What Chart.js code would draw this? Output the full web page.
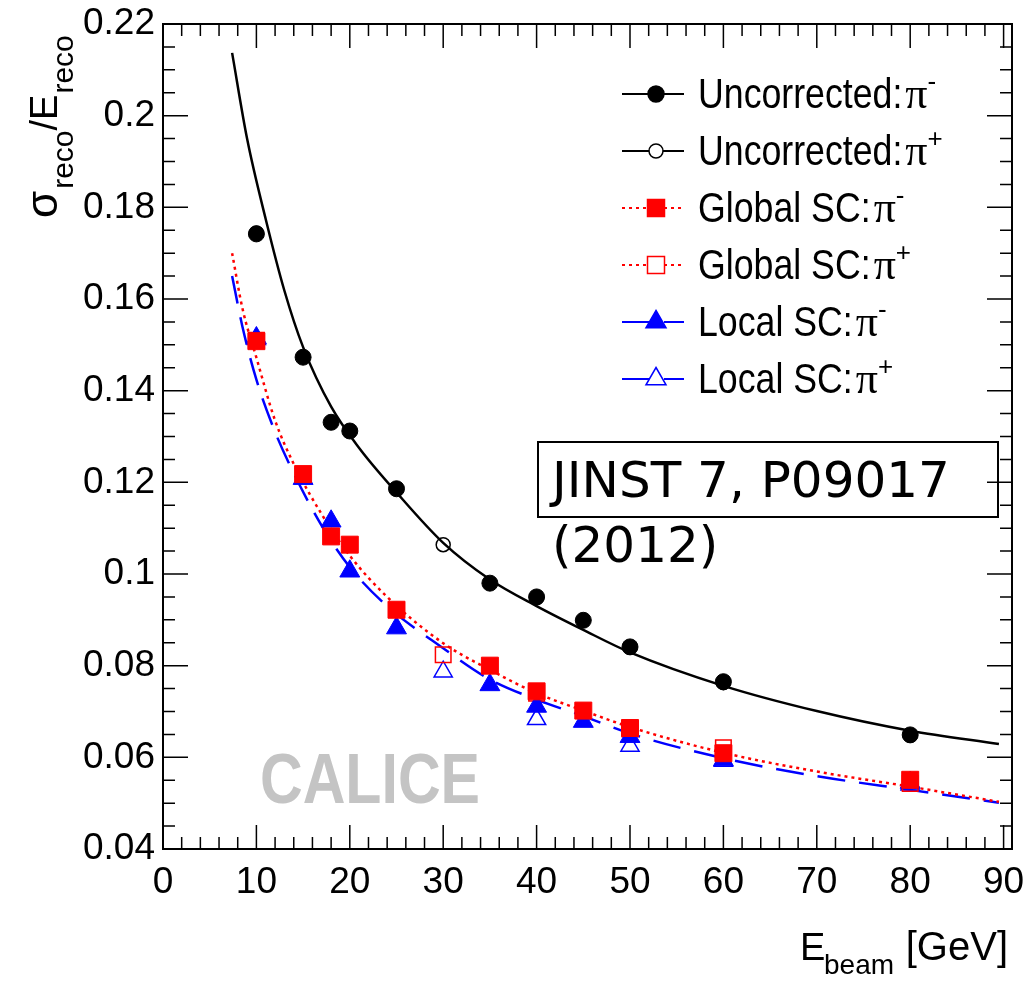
<!DOCTYPE html>
<html>
<head>
<meta charset="utf-8">
<script src="https://cdn.jsdelivr.net/npm/chart.js@4.4.0/dist/chart.umd.min.js"></script>
<style>
  body { margin: 0; background: #fff; }
  #wrap { position: relative; width: 1030px; height: 985px; }
  #ref {
    position: absolute; left: 537px; top: 441px; width: 462px; height: 77px;
    box-sizing: border-box; border: 2px solid #000; padding: 5px 0 0 13px;
    font-family: "DejaVu Sans"; font-size: 50px; line-height: 65px; color: #000;
  }
</style>
</head>
<body>
<div id="wrap">
  <canvas id="c" width="1030" height="985"></canvas>
  <div id="ref">JINST 7, P09017 (2012)</div>
</div>
<script>
// axis ticks
const xTicks = [0, 10, 20, 30, 40, 50, 60, 70, 80, 90];
const yTicks = [0.04, 0.06, 0.08, 0.1, 0.12, 0.14, 0.16, 0.18, 0.2, 0.22];

// beam energies (GeV)
const eMinus = [10, 15, 18, 20, 25, 35, 40, 45, 50, 60, 80];
const ePlus = [10, 30, 40, 50, 60, 80];

// measured resolution
const uncorrMinus = [0.1742, 0.1473, 0.1331, 0.1312, 0.1186, 0.0980, 0.0950, 0.0899, 0.0841, 0.0765, 0.0649];
const uncorrPlus = [0.1744, 0.1064, 0.0948, 0.0840, 0.0763, 0.0648];
const globalMinus = [0.1508, 0.1218, 0.1082, 0.1064, 0.0922, 0.0800, 0.0744, 0.0702, 0.0664, 0.0609, 0.0551];
const globalPlus = [0.1510, 0.0824, 0.0740, 0.0662, 0.0621, 0.0543];
const localMinus = [0.1515, 0.1208, 0.1115, 0.1006, 0.0882, 0.0758, 0.0711, 0.0678, 0.0645, 0.0594, 0.0545];
const localPlus = [0.1512, 0.0787, 0.0683, 0.0625, 0.0592, 0.0540];

// fit curves
const fitUncorrE = [7.4, 9, 11, 13, 15, 18, 21, 25, 30, 35, 40, 45, 50, 60, 70, 80, 89.5];
const fitUncorr = [0.2137, 0.1950, 0.1774, 0.1618, 0.1495, 0.1365, 0.1275, 0.1178, 0.1068, 0.0988, 0.0930, 0.0878, 0.0829, 0.0756, 0.0701, 0.0658, 0.0629];
const fitSCE = [7.4, 8.5, 10, 12, 14, 17, 20, 24, 30, 35, 40, 45, 50, 60, 70, 80, 89.5];
const fitGlobal = [0.1700, 0.1580, 0.1472, 0.1335, 0.1240, 0.1130, 0.1040, 0.0950, 0.0849, 0.0791, 0.0740, 0.0702, 0.0666, 0.0610, 0.0569, 0.0536, 0.0503];
const fitLocal = [0.1650, 0.1540, 0.1424, 0.1310, 0.1220, 0.1105, 0.1015, 0.0930, 0.0838, 0.0770, 0.0726, 0.0690, 0.0652, 0.0598, 0.0559, 0.0529, 0.0501];

const RED = '#ff0000', BLUE = '#0000ff', BLACK = '#000000';

function pts(xs, ys) {
    return xs.map((x, i) => ({ x: x, y: ys[i] }));
}

function markerSet(xs, ys, color, style, filled, radius) {
    return {
        data: pts(xs, ys),
        showLine: false,
        pointStyle: style,
        pointRadius: radius,
        pointBackgroundColor: filled ? color : 'rgba(0,0,0,0)',
        pointBorderColor: color,
        pointBorderWidth: filled ? 1 : 1.5,
        order: filled ? 0 : 1,
    };
}

function fitSet(xs, ys, color, dash) {
    return {
        data: pts(xs, ys),
        showLine: true,
        pointRadius: 0,
        borderColor: color,
        borderWidth: 2.5,
        borderDash: dash,
        cubicInterpolationMode: 'monotone',
        fill: false,
        order: 2,
    };
}

const legendRows = [
    { text: 'Uncorrected:', sup: '-', color: BLACK, dash: [], style: 'circle', filled: true },
    { text: 'Uncorrected:', sup: '+', color: BLACK, dash: [], style: 'circle', filled: false },
    { text: 'Global SC:', sup: '-', color: RED, dash: [3, 4], style: 'rect', filled: true },
    { text: 'Global SC:', sup: '+', color: RED, dash: [3, 4], style: 'rect', filled: false },
    { text: 'Local SC:', sup: '-', color: BLUE, dash: [28, 14], style: 'triangle', filled: true },
    { text: 'Local SC:', sup: '+', color: BLUE, dash: [28, 14], style: 'triangle', filled: false },
];

function drawMarker(ctx, style, x, y, color, filled) {
    ctx.beginPath();
    if (style === 'circle') {
        ctx.arc(x, y, filled ? 8 : 7, 0, Math.PI * 2);
    } else if (style === 'rect') {
        ctx.rect(x - 8.5, y - 8.5, 17, 17);
    } else {
        ctx.moveTo(x, y - 11.5);
        ctx.lineTo(x + 10, y + 5.75);
        ctx.lineTo(x - 10, y + 5.75);
        ctx.closePath();
    }
    ctx.setLineDash([]);
    ctx.lineWidth = 1.5;
    ctx.fillStyle = filled ? color : '#fff';
    ctx.fill();
    ctx.strokeStyle = color;
    ctx.stroke();
}

const watermark = {
    id: 'watermark',
    beforeDatasetsDraw(chart) {
        const ctx = chart.ctx;
        ctx.save();
        ctx.fillStyle = '#c4c4c4';
        ctx.font = 'bold 70px "Liberation Sans"';
        ctx.fillText('CALICE', 260, 803, 220);
        ctx.restore();
    }
};

const frameTicks = {
    id: 'frameTicks',
    afterDraw(chart) {
        const { ctx, chartArea: a, scales: { x, y } } = chart;
        ctx.save();
        ctx.strokeStyle = '#000';
        ctx.setLineDash([]);
        ctx.lineWidth = 2;
        ctx.strokeRect(a.left, a.top, a.right - a.left, a.bottom - a.top);
        ctx.lineWidth = 1.5;
        ctx.beginPath();
        for (let v = 0; v <= 90; v += 2) {
            const px = x.getPixelForValue(v);
            const len = v % 10 === 0 ? 24 : 12;
            ctx.moveTo(px, a.bottom); ctx.lineTo(px, a.bottom - len);
            ctx.moveTo(px, a.top); ctx.lineTo(px, a.top + len);
        }
        for (let i = 0; i <= 36; i++) {
            const py = y.getPixelForValue(0.04 + i * 0.005);
            const len = i % 4 === 0 ? 25 : 12;
            ctx.moveTo(a.left, py); ctx.lineTo(a.left + len, py);
            ctx.moveTo(a.right, py); ctx.lineTo(a.right - len, py);
        }
        ctx.stroke();
        ctx.restore();
    }
};

const legendBox = {
    id: 'legendBox',
    afterDraw(chart) {
        const ctx = chart.ctx;
        ctx.save();
        legendRows.forEach((r, i) => {
            const cy = 94 + i * 57;
            ctx.strokeStyle = r.color;
            ctx.lineWidth = 2;
            ctx.setLineDash(r.dash);
            ctx.beginPath();
            ctx.moveTo(622, cy); ctx.lineTo(684, cy);
            ctx.stroke();
            drawMarker(ctx, r.style, 656, cy, r.color, r.filled);

            ctx.fillStyle = '#000';
            ctx.font = '42px "Liberation Sans"';
            const w = ctx.measureText(r.text).width * 0.85;
            ctx.fillText(r.text, 698, cy + 14, w);
            ctx.font = '44px "Liberation Serif"';
            const px = 698 + w + 3;
            ctx.fillText('\u03c0', px, cy + 14);
            const pw = ctx.measureText('\u03c0').width;
            ctx.font = '26px "Liberation Sans"';
            ctx.fillText(r.sup, px + pw, cy - 4);
        });
        ctx.restore();
    }
};

const axisTitles = {
    id: 'axisTitles',
    afterDraw(chart) {
        const ctx = chart.ctx;
        ctx.save();
        ctx.fillStyle = '#000';
        // x title: E_beam [GeV]
        ctx.font = '38px "Liberation Sans"';
        ctx.fillText('E', 800, 960);
        ctx.font = '28px "Liberation Sans"';
        ctx.fillText('beam', 824, 974);
        ctx.font = '40px "Liberation Sans"';
        ctx.textAlign = 'right';
        ctx.fillText('[GeV]', 1008, 960);
        ctx.textAlign = 'left';

        // y title: sigma_reco / E_reco
        ctx.translate(57, 218);
        ctx.rotate(-Math.PI / 2);
        let cx = 0;
        ctx.font = '44px "Liberation Sans"';
        ctx.fillText('\u03c3', cx, 0);
        cx += ctx.measureText('\u03c3').width + 2;
        ctx.font = '30px "Liberation Sans"';
        ctx.fillText('reco', cx, 16);
        cx += ctx.measureText('reco').width;
        ctx.font = '38px "Liberation Sans"';
        ctx.fillText('/E', cx, 0);
        cx += ctx.measureText('/E').width + 1;
        ctx.font = '30px "Liberation Sans"';
        ctx.fillText('reco', cx, 16);
        ctx.restore();
    }
};

const tickFont = { family: 'Liberation Sans', size: 37 };

new Chart(document.getElementById('c'), {
    type: 'scatter',
    data: {
        datasets: [
            markerSet(eMinus, uncorrMinus, BLACK, 'circle', true, 8),
            markerSet(ePlus, uncorrPlus, BLACK, 'circle', false, 7),
            markerSet(eMinus, globalMinus, RED, 'rect', true, 12),
            markerSet(ePlus, globalPlus, RED, 'rect', false, 11),
            markerSet(eMinus, localMinus, BLUE, 'triangle', true, 11.5),
            markerSet(ePlus, localPlus, BLUE, 'triangle', false, 10.5),
            fitSet(fitUncorrE, fitUncorr, BLACK, []),
            fitSet(fitSCE, fitGlobal, RED, [3, 4]),
            fitSet(fitSCE, fitLocal, BLUE, [28, 14]),
        ]
    },
    options: {
        responsive: false,
        animation: false,
        events: [],
        layout: { padding: { left: 0, top: 24, right: 18, bottom: 0 } },
        plugins: { legend: { display: false }, tooltip: { enabled: false } },
        scales: {
            x: {
                type: 'linear', min: 0, max: 90.9,
                grid: { display: false }, border: { display: false },
                afterBuildTicks: s => { s.ticks = xTicks.map(v => ({ value: v })); },
                afterFit: s => { s.height = 136; s.paddingLeft = 0; s.paddingRight = 0; },
                ticks: { font: tickFont, color: '#000', padding: 4, maxRotation: 0, autoSkip: false }
            },
            y: {
                type: 'linear', min: 0.04, max: 0.22,
                grid: { display: false }, border: { display: false },
                afterBuildTicks: s => { s.ticks = yTicks.map(v => ({ value: v })); },
                afterFit: s => { s.width = 163; s.paddingTop = 0; s.paddingBottom = 0; },
                ticks: {
                    font: tickFont, color: '#000', padding: 0, autoSkip: false,
                    callback: v => String(+v.toFixed(2))
                }
            }
        }
    },
    plugins: [watermark, frameTicks, legendBox, axisTitles]
});
</script>
</body>
</html>
